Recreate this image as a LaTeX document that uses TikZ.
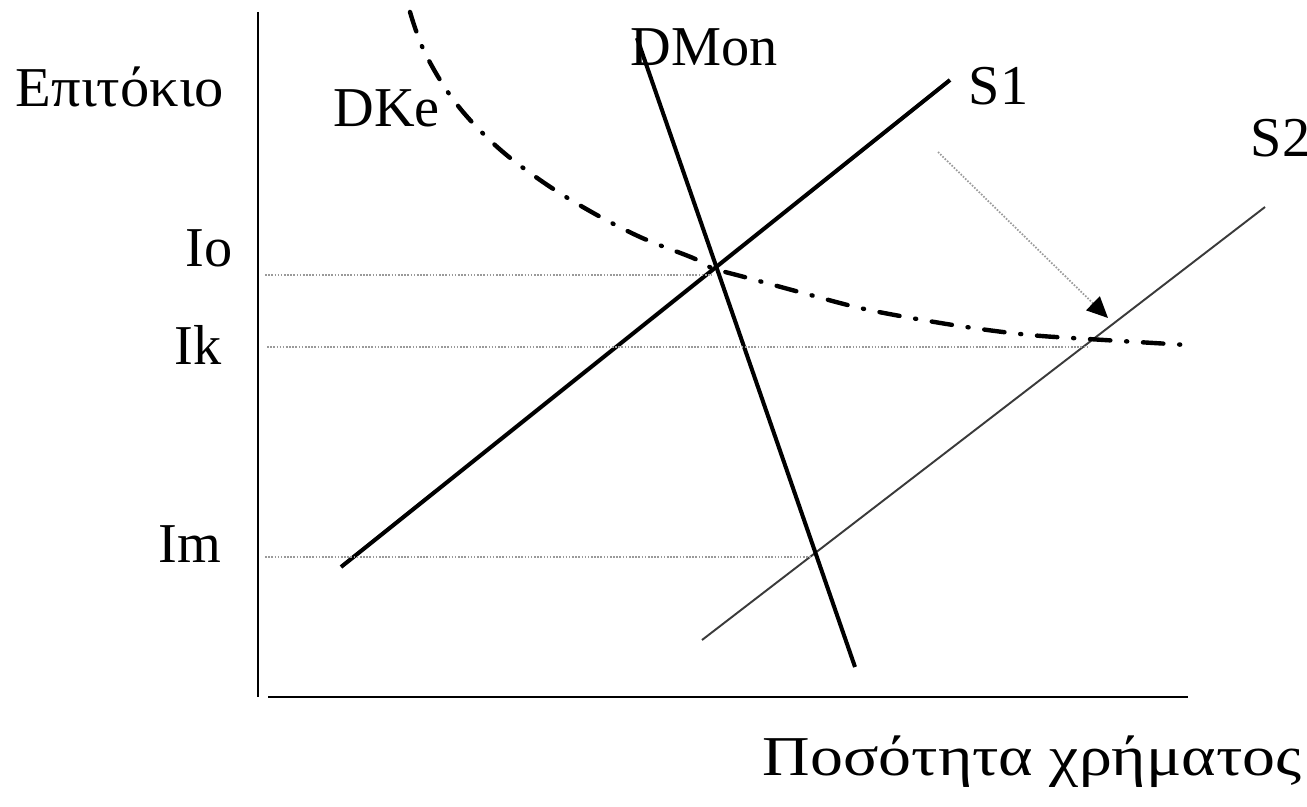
\documentclass[tikz,border=0pt]{standalone}
\usepackage{fontspec}
\setmainfont{Liberation Serif}
\newfontfamily\greekaxis[FakeStretch=1.04]{Liberation Serif}
\newfontfamily\greekwide[FakeStretch=1.17]{Liberation Serif}
\usepackage{xcolor}
\definecolor{guidegray}{HTML}{9A9A9A}
\definecolor{darkline}{HTML}{3A3A3A}
\usetikzlibrary{arrows.meta}

\begin{document}
\begin{tikzpicture}[x=0.01cm, y=-0.01cm,
  lbl/.style={inner sep=0pt, font=\fontsize{16}{19}\selectfont},
  axis/.style={line width=0.8pt, black},
  curve/.style={line width=1.15pt, black},
  thinline/.style={line width=0.55pt, darkline},
  guideline/.style={line width=0.6pt, guidegray, dash pattern=on 0.45pt off 0.45pt},
  demand/.style={line width=1.25pt, black, line cap=round,
    dash pattern=on 5.8pt off 4.5pt on 0.3pt off 4.5pt},
  move/.style={-{Triangle[length=6pt, width=5.5pt, color=black, fill=black]},
    line width=0.5pt, guidegray, dash pattern=on 0.45pt off 0.45pt}]

  \useasboundingbox (0,0) rectangle (1307,807);

  % axes
  \coordinate (ytop) at (258,12);
  \coordinate (ybot) at (258,697);
  \coordinate (xleft) at (268,697);
  \coordinate (xright) at (1188,697);
  \draw[axis] (ytop) -- (ybot);
  \draw[axis] (xleft) -- (xright);

  % supply and demand lines
  \coordinate (s1a) at (341,567);
  \coordinate (s1b) at (950,80);
  \coordinate (s2a) at (702,640);
  \coordinate (s2b) at (1265,207);
  \coordinate (dma) at (637,38);
  \coordinate (dmb) at (855,667);
  \draw[curve] (s1a) -- (s1b);
  \draw[thinline] (s2a) -- (s2b);
  \draw[curve] (dma) -- (dmb);

  % DKe curve
  \draw[demand] plot[smooth, tension=0.6] coordinates {(410,12) (425,53) (455,102)
    (495,145) (540,180) (588,210) (640,237) (693,258) (712,268) (748,278)
    (803,293) (860,308) (917,319) (973,328) (1030,335) (1088,339) (1187,345)};

  % interest rate levels
  \coordinate (io0) at (265,275);
  \coordinate (io1) at (712,275);
  \coordinate (ik0) at (267,347);
  \coordinate (ik1) at (1088,347);
  \coordinate (im0) at (265,557);
  \coordinate (im1) at (812,557);
  \draw[guideline] (io0) -- (io1);
  \draw[guideline] (ik0) -- (ik1);
  \draw[guideline] (im0) -- (im1);

  % shift of supply
  \coordinate (from) at (938,152);
  \coordinate (to) at (1108,318);
  \draw[move] (from) -- (to);

  \node[lbl, font=\fontsize{16}{19}\greekaxis, anchor=base west] (rate) at (15,107) {Επιτόκιο};
  \node[lbl, anchor=base east] (io) at (233,267) {Io};
  \node[lbl, anchor=base east] (ik) at (222,365) {Ik};
  \node[lbl, anchor=base east] (im) at (222,562) {Im};
  \node[lbl, anchor=base west] (dke) at (333,127) {DKe};
  \node[lbl, anchor=base west] (dmon) at (630,66) {DMon};
  \node[lbl, anchor=base west] (s1) at (968,105) {S1};
  \node[lbl, anchor=base west] (s2) at (1250,157) {S2};
  \node[lbl, font=\fontsize{16}{19}\greekwide, anchor=base west] (qty) at (762,775) {Ποσότητα χρήματος};
\end{tikzpicture}
\end{document}
